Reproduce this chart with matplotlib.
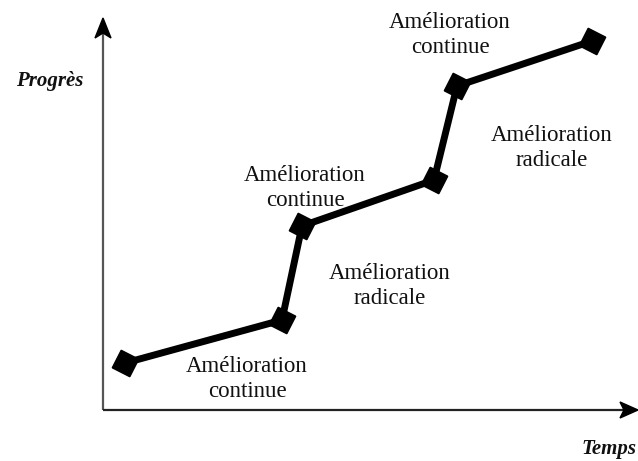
import matplotlib
matplotlib.use("Agg")
import matplotlib.pyplot as plt
from matplotlib.patches import Polygon

# Data (in image-like units: x = time, y = progress, y grows downward)
time_pts = [125, 282, 302, 434, 457, 592]
progress_pts = [363, 320, 226, 180, 86, 41]

labels = ["Amélioration\ncontinue", "Amélioration\nradicale", "Amélioration\ncontinue",
          "Amélioration\nradicale", "Amélioration\ncontinue"]
label_x = [247, 390, 305, 552, 450]
label_y = [379, 286, 188, 148, 35]

x_axis_label = "Temps"
y_axis_label = "Progrès"

fig = plt.figure(figsize=(6.38, 4.61), dpi=100)
ax = fig.add_axes([0, 0, 1, 1])
ax.set_xlim(0, 638)
ax.set_ylim(461, 0)
ax.axis("off")

serif = ["Liberation Serif", "DejaVu Serif"]

# axes lines
ox, oy = 103, 410
ax.plot([ox, ox], [oy, 30], color="#555555", lw=1.6, zorder=2, solid_capstyle="butt")
ax.plot([ox, 628], [oy, oy], color="#222222", lw=1.6, zorder=2, solid_capstyle="butt")
# arrowheads (stealth style)
ax.add_patch(Polygon([(ox, 18), (ox + 8, 38), (ox, 33), (ox - 8, 38)], closed=True,
                     color="black", zorder=2))
ax.add_patch(Polygon([(638, oy), (620, oy - 8), (624, oy), (620, oy + 8)], closed=True,
                     color="black", zorder=2))

for t, x, y in zip(labels, label_x, label_y):
    ax.text(x, y, t, ha="center", va="center", fontsize=16.5, family=serif,
            linespacing=1.2, color="#111111", zorder=1)

ax.plot(time_pts, progress_pts, color="black", lw=5, zorder=3, solid_capstyle="butt")
ax.plot(time_pts, progress_pts, linestyle="none", marker=(4, 0, 18), markersize=20,
        color="black", zorder=4)

ax.text(50, 81, y_axis_label, ha="center", va="center", fontsize=15, family=serif,
        style="italic", weight="bold", color="#111111")
ax.text(636, 449, x_axis_label, ha="right", va="center", fontsize=15, family=serif,
        style="italic", weight="bold", color="#111111")

fig.savefig("out.png", dpi=100)
